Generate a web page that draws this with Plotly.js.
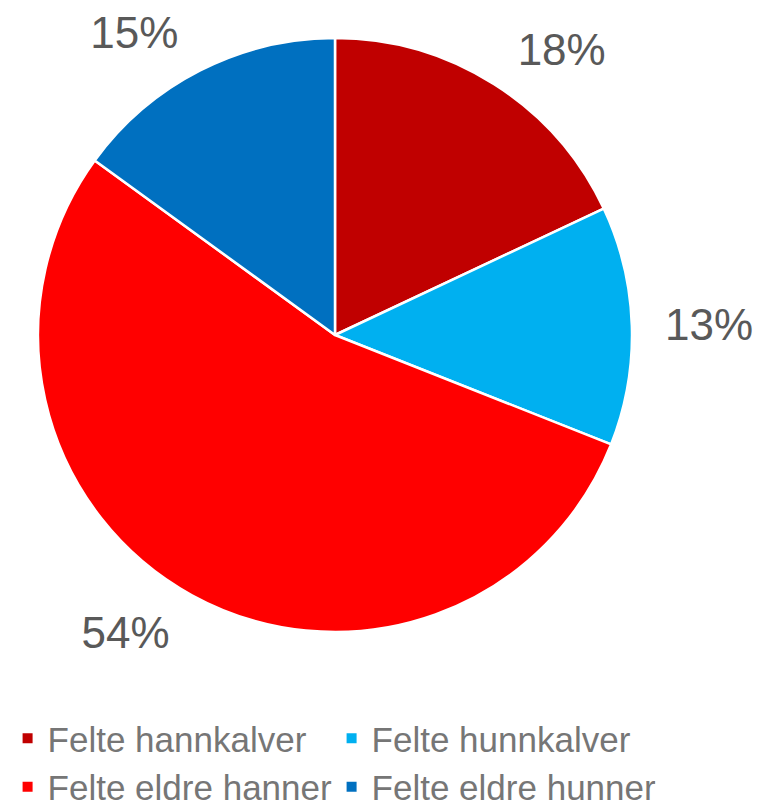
<!DOCTYPE html>
<html>
<head>
<meta charset="utf-8">
<script src="https://cdn.plot.ly/plotly-3.0.1.min.js"></script>
<style>html,body{margin:0;padding:0;background:#fff;}#chart{width:759px;height:812px;}</style>
</head>
<body>
<div id="chart"></div>
<script>
const categories = ["Felte hannkalver", "Felte hunnkalver", "Felte eldre hanner", "Felte eldre hunner"];
const shares = [18, 13, 54, 15];
const colors = ["#C00000", "#00B0F0", "#FF0000", "#0070C0"];

const W = 759, H = 812, CX = 335, CY = 335, R = 297, RL = 318;
function dom(r) {
  return {x: [(CX - r) / W, (CX + r) / W], y: [(H - CY - r) / H, (H - CY + r) / H]};
}

const pie = {
  type: "pie",
  labels: categories,
  values: shares,
  sort: false,
  direction: "clockwise",
  rotation: 0,
  marker: {colors: colors, line: {color: "#FFFFFF", width: 2.5}},
  textinfo: "none",
  hoverinfo: "label+percent",
  domain: dom(R),
  automargin: false
};

const labelRing = {
  type: "pie",
  labels: categories,
  values: shares,
  sort: false,
  direction: "clockwise",
  rotation: 0,
  showlegend: false,
  marker: {colors: ["rgba(0,0,0,0)", "rgba(0,0,0,0)", "rgba(0,0,0,0)", "rgba(0,0,0,0)"], line: {width: 0}},
  textposition: "outside",
  texttemplate: "%{value}%",
  outsidetextfont: {family: "Liberation Sans, Arial, sans-serif", size: 44, color: "#595959"},
  hoverinfo: "skip",
  domain: dom(RL),
  automargin: false
};

const layout = {
  width: W,
  height: H,
  margin: {l: 0, r: 0, t: 0, b: 0, autoexpand: false},
  paper_bgcolor: "#FFFFFF",
  showlegend: true,
  legend: {
    orientation: "h",
    x: 0.01,
    y: 0.127,
    xanchor: "left",
    yanchor: "top",
    entrywidth: 279,
    entrywidthmode: "pixels",
    font: {family: "Liberation Sans, Arial, sans-serif", size: 35, color: "#767676"},
    itemsizing: "constant",
    tracegroupgap: 0
  }
};

Plotly.newPlot("chart", [pie, labelRing], layout, {displayModeBar: false, staticPlot: true});
</script>
</body>
</html>
